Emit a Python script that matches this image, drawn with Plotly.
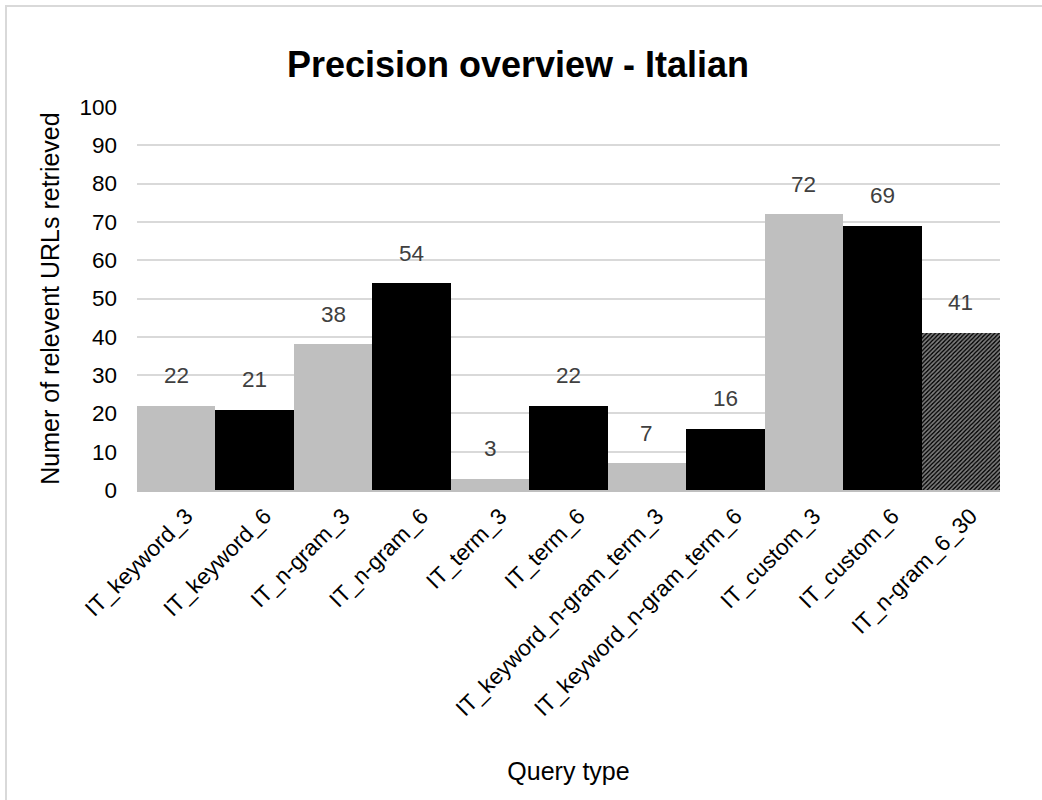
import plotly.graph_objects as go

# Query types and retrieved relevant URLs
categories = [
    "IT_keyword_3", "IT_keyword_6", "IT_n-gram_3", "IT_n-gram_6",
    "IT_term_3", "IT_term_6", "IT_keyword_n-gram_term_3",
    "IT_keyword_n-gram_term_6", "IT_custom_3", "IT_custom_6", "IT_n-gram_6_30",
]
values = [22, 21, 38, 54, 3, 22, 7, 16, 72, 69, 41]
y_ticks = [0, 10, 20, 30, 40, 50, 60, 70, 80, 90, 100]

GRAY = "#bfbfbf"
BLACK = "#000000"
bar_colors = [GRAY, BLACK, GRAY, BLACK, GRAY, BLACK, GRAY, BLACK, GRAY, BLACK, BLACK]
pattern_shapes = [""] * 10 + ["/"]

FONT = "Liberation Sans, Arial, sans-serif"
TICK_SIZE = 22.5
TITLE_SIZE = 25
MAIN_TITLE_SIZE = 36

W, H = 1042, 800
L, R, T, B = 137, 42, 107, 310

fig = go.Figure()
fig.add_trace(go.Bar(
    x=categories,
    y=values,
    marker=dict(
        color=bar_colors,
        line=dict(width=0),
        pattern=dict(shape=pattern_shapes, fgcolor=BLACK, bgcolor="#ffffff",
                     size=3, solidity=0.55, fillmode="overlay"),
    ),
    hoverinfo="x+y",
))

# value labels above each bar
for c, v in zip(categories, values):
    fig.add_annotation(x=c, y=v, text=str(v), showarrow=False, yshift=30,
                       font=dict(family=FONT, size=TICK_SIZE, color="#404040"))

# outer chart border
pw, ph = W - L - R, H - T - B
fig.add_shape(type="rect", xref="paper", yref="paper",
              x0=(6 - L) / pw, x1=(W + 10 - L) / pw,
              y0=-(H + 10 - T - ph) / ph, y1=1 + (T - 6) / ph,
              line=dict(color="#d9d9d9", width=2), fillcolor="rgba(0,0,0,0)",
              layer="below")

fig.update_layout(
    width=W, height=H,
    margin=dict(l=L, r=R, t=T, b=B, pad=0),
    paper_bgcolor="#ffffff", plot_bgcolor="#ffffff",
    bargap=0,
    showlegend=False,
    font=dict(family=FONT, size=TICK_SIZE, color="#000000"),
    title=dict(text="<b>Precision overview - Italian</b>", x=(518 - L) / pw, xref="paper",
               xanchor="center", y=1 - 64 / H, yanchor="middle",
               font=dict(family=FONT, size=MAIN_TITLE_SIZE, color="#000000")),
)
fig.update_yaxes(
    range=[0, 100], tickvals=y_ticks, showgrid=True, gridcolor="#d9d9d9",
    gridwidth=2, zeroline=False, showline=False, ticks="",
    ticklabelstandoff=19,
    tickfont=dict(family=FONT, size=TICK_SIZE, color="#000000"),
    title=dict(text="Numer of relevent URLs retrieved", standoff=12,
               font=dict(family=FONT, size=TITLE_SIZE, color="#000000")),
)
fig.update_xaxes(
    showline=True, linecolor="#bfbfbf", linewidth=2, ticks="",
    tickangle=-45, ticklabelshift=10, ticklabelstandoff=2,
    tickfont=dict(family=FONT, size=TICK_SIZE, color="#000000"),
    title=dict(text="Query type", standoff=42,
               font=dict(family=FONT, size=TITLE_SIZE, color="#000000")),
)

fig.write_html("out.html")
